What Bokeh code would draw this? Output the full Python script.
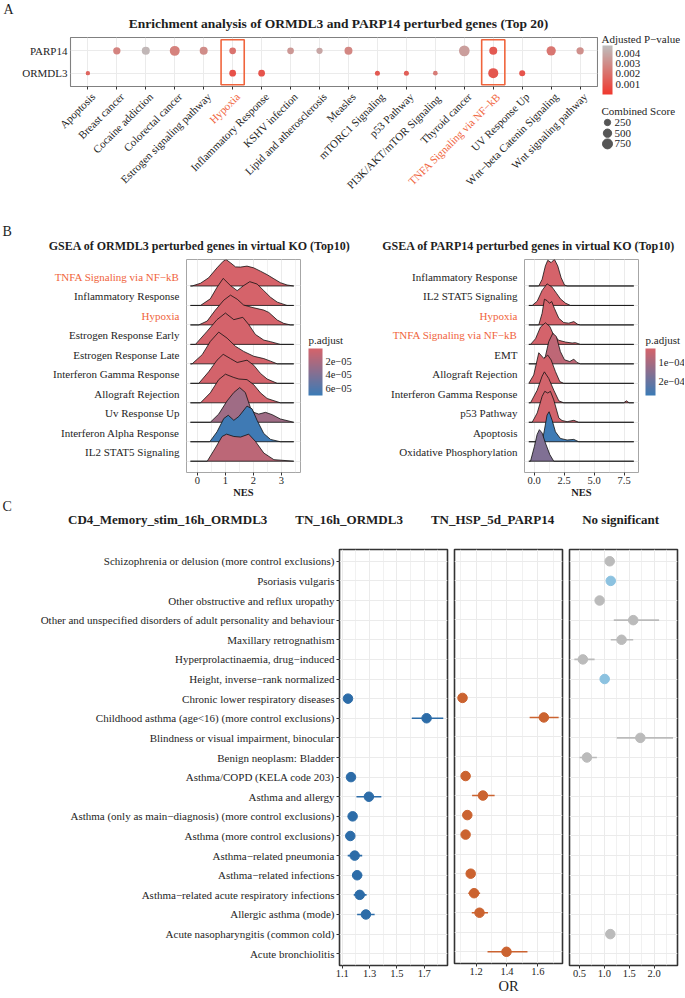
import math
from bokeh.plotting import figure
from bokeh.models import (Range1d, FixedTicker, SingleIntervalTicker, LinearColorMapper, ColorBar,
                          ColumnDataSource, Legend, LegendItem, PrintfTickFormatter, AllLabels)
from bokeh.layouts import column, row
from bokeh.embed import file_html
from bokeh.resources import INLINE
from bokeh.core.properties import value

FONT = "Liberation Serif"
INK = "#1E1E1E"
HL = "#F0643C"
GRID = "#EBEBEB"

# ================= Panel A data =================
a_categories = ["Apoptosis", "Breast cancer", "Cocaine addiction", "Colorectal cancer",
                "Estrogen signaling pathway", "Hypoxia", "Inflammatory Response", "KSHV infection",
                "Lipid and atherosclerosis", "Measles", "mTORC1 Signaling", "p53 Pathway",
                "PI3K/AKT/mTOR  Signaling", "Thyroid cancer", "TNFA Signaling via NF−kB",
                "UV Response Up", "Wnt−beta Catenin Signaling", "Wnt signaling pathway"]
a_genes = ["ORMDL3", "PARP14"]          # bottom -> top
a_highlight = ["Hypoxia", "TNFA Signaling via NF−kB"]
a_title = "Enrichment analysis of ORMDL3 and PARP14 perturbed genes (Top 20)"

a_parp14_terms = ["Breast cancer", "Cocaine addiction", "Colorectal cancer", "Estrogen signaling pathway",
                  "Hypoxia", "KSHV infection", "Lipid and atherosclerosis", "Measles", "Thyroid cancer",
                  "TNFA Signaling via NF−kB", "Wnt−beta Catenin Signaling", "Wnt signaling pathway"]
a_parp14_padj = [0.0027, 0.0045, 0.0026, 0.0030, 0.0021, 0.0034, 0.0039, 0.0028, 0.0036, 0.0012, 0.0022, 0.0031]
a_parp14_score = [365, 455, 750, 455, 295, 295, 250, 455, 870, 455, 640, 365]

a_ormdl3_terms = ["Apoptosis", "Hypoxia", "Inflammatory Response", "mTORC1 Signaling", "p53 Pathway",
                  "PI3K/AKT/mTOR  Signaling", "TNFA Signaling via NF−kB", "UV Response Up"]
a_ormdl3_padj = [0.0016, 0.0009, 0.0010, 0.0012, 0.0014, 0.0024, 0.0011, 0.0010]
a_ormdl3_score = [80, 300, 295, 130, 130, 105, 760, 220]

a_padj_ticks = [0.001, 0.002, 0.003, 0.004]
a_score_breaks = [250, 500, 750]

# ================= Panel B data =================
b_highlight = ["TNFA Signaling via NF−kB", "Hypoxia"]

bL_title = "GSEA of ORMDL3 perturbed genes in virtual KO (Top10)"
bL_terms = ["TNFA Signaling via NF−kB", "Inflammatory Response", "Hypoxia", "Estrogen Response Early",
            "Estrogen Response Late", "Interferon Gamma Response", "Allograft Rejection", "Uv Response Up",
            "Interferon Alpha Response", "IL2 STAT5 Signaling"]
bL_padj = [1.1e-06, 1.3e-06, 1.6e-06, 1.9e-06, 2.2e-06, 2.6e-06, 3.0e-06, 2.6e-05, 6.9e-05, 1.3e-05]
bL_x = [
    [-0.19, 0.11, 0.40, 0.70, 0.92, 1.02, 1.18, 1.36, 1.54, 1.77, 2.01, 2.25, 2.49, 2.73, 2.96, 3.20, 3.44],
    [0.11, 0.46, 0.70, 0.92, 1.18, 1.42, 1.65, 1.87, 2.13, 2.37, 2.61, 2.85, 3.20],
    [0.05, 0.35, 0.64, 0.94, 1.18, 1.42, 1.65, 2.01, 2.37, 2.55, 2.85, 3.08, 3.32],
    [-0.07, 0.35, 0.70, 1.00, 1.30, 1.62, 1.83, 2.07, 2.37, 2.61, 2.96],
    [-0.19, 0.17, 0.46, 0.76, 1.06, 1.36, 1.65, 2.01, 2.37, 2.61, 2.85],
    [0.05, 0.40, 0.70, 0.92, 1.18, 1.42, 1.77, 2.01, 2.25, 2.49, 2.85],
    [0.11, 0.46, 0.76, 1.00, 1.30, 1.48, 1.77, 2.01, 2.25, 2.49, 2.96],
    [0.46, 0.76, 1.06, 1.30, 1.51, 1.71, 1.89, 2.01, 2.19, 2.43, 2.67, 2.96, 3.44],
    [0.44, 0.70, 0.94, 1.10, 1.30, 1.48, 1.77, 1.95, 2.13, 2.37, 2.61, 2.96],
    [0.35, 0.64, 0.88, 1.04, 1.30, 1.54, 1.83, 2.07, 2.37, 2.73, 3.44],
]
bL_h = [
    [0, 0.14, 0.42, 0.93, 1.27, 1.36, 1.19, 0.98, 0.97, 1.02, 0.93, 0.76, 0.58, 0.37, 0.17, 0.05, 0],
    [0, 0.34, 0.93, 1.39, 1.02, 0.76, 1.02, 1.22, 1.10, 0.76, 0.42, 0.17, 0],
    [0, 0.20, 0.76, 1.27, 1.53, 1.32, 1.02, 0.88, 0.76, 0.64, 0.25, 0.08, 0],
    [0, 0.68, 1.27, 1.61, 1.27, 1.39, 1.02, 0.51, 0.22, 0.14, 0],
    [0, 0.47, 1.15, 1.63, 1.32, 0.90, 0.64, 0.39, 0.27, 0.14, 0],
    [0, 0.59, 1.19, 1.49, 1.27, 1.07, 1.19, 0.93, 0.51, 0.22, 0],
    [0, 0.51, 1.19, 1.47, 1.30, 1.22, 1.19, 0.93, 0.51, 0.22, 0],
    [0, 0.42, 1.10, 1.53, 1.78, 1.53, 0.76, 0.51, 0.42, 0.51, 0.39, 0.17, 0],
    [0, 0.51, 1.19, 1.36, 1.10, 1.30, 1.83, 1.69, 1.10, 0.42, 0.12, 0],
    [0, 0.68, 1.27, 1.39, 1.27, 1.24, 1.39, 1.02, 0.42, 0.08, 0],
]
bL_span = [-0.25, 3.44]
bL_cb_ticks = [2e-05, 4e-05, 6e-05]
bL_cb_labels = ["2e−05", "4e−05", "6e−05"]

bR_title = "GSEA of PARP14 perturbed genes in virtual KO (Top10)"
bR_terms = ["Inflammatory Response", "IL2 STAT5 Signaling", "Hypoxia", "TNFA Signaling via NF−kB", "EMT",
            "Allograft Rejection", "Interferon Gamma Response", "p53 Pathway", "Apoptosis",
            "Oxidative Phosphorylation"]
bR_padj = [2.7e-05, 2.8e-05, 2.9e-05, 3.0e-05, 6.5e-05, 3.1e-05, 3.2e-05, 3.3e-05, 2.7e-04, 1.65e-04]
bR_x = [
    [0.39, 0.67, 0.94, 1.14, 1.42, 1.69, 1.97, 2.25, 2.53, 2.75],
    [-0.16, 0.26, 0.67, 1.08, 1.50, 1.86, 2.19, 2.61, 3.03],
    [0.39, 0.67, 0.86, 1.08, 1.28, 1.47, 1.69, 2.06, 2.47, 2.89, 3.31, 3.64, 3.86],
    [-0.30, 0.12, 0.53, 0.94, 1.31, 1.64, 2.06, 2.61, 3.17, 3.44, 3.86],
    [0.53, 0.94, 1.22, 1.56, 1.86, 2.19, 2.53, 2.97, 3.31, 3.58, 3.86],
    [-0.44, -0.03, 0.39, 0.81, 1.14, 1.42, 1.78, 2.14, 2.47],
    [-0.30, 0.26, 0.67, 0.86, 1.22, 1.64, 2.06, 2.47, 7.47, 7.69, 7.92],
    [-0.16, 0.26, 0.67, 0.89, 1.14, 1.36, 1.64, 2.06, 2.33, 2.75, 3.31, 3.72],
    [0.67, 0.86, 1.08, 1.25, 1.50, 1.78, 2.19, 2.75, 3.31, 3.72],
    [-0.30, 0.03, 0.25, 0.44, 0.67, 0.94, 1.31, 1.64],
]
bR_h = [
    [0, 0.34, 1.03, 1.32, 1.20, 1.37, 1.03, 0.43, 0.05, 0],
    [0, 0.22, 0.77, 1.11, 0.94, 0.63, 0.34, 0.12, 0],
    [0, 0.60, 1.32, 1.25, 1.11, 1.20, 0.85, 0.34, 0.12, 0.09, 0.17, 0.03, 0],
    [0, 0.29, 0.89, 1.11, 0.92, 0.46, 0.21, 0.12, 0.07, 0.09, 0],
    [0, 0.38, 1.14, 1.57, 1.40, 0.63, 0.21, 0.12, 0.24, 0.07, 0],
    [0, 0.43, 1.57, 1.28, 1.45, 1.20, 0.60, 0.09, 0],
    [0, 0.65, 1.37, 1.59, 1.25, 0.65, 0.10, 0, 0, 0.10, 0],
    [0, 0.48, 1.33, 1.59, 1.50, 1.59, 1.15, 0.22, 0.09, 0.03, 0.10, 0],
    [0, 0.60, 1.37, 1.54, 1.11, 0.51, 0.17, 0.09, 0.12, 0],
    [0, 0.77, 1.37, 1.62, 1.45, 0.94, 0.34, 0],
]
bR_span = [-0.44, 8.31]
bR_cb_ticks = [1e-04, 2e-04]
bR_cb_labels = ["1e−04", "2e−04"]

# ================= Panel C data =================
c_traits = ["Schizophrenia or delusion (more control exclusions)", "Psoriasis vulgaris",
            "Other obstructive and reflux uropathy",
            "Other and unspecified disorders of adult personality and behaviour",
            "Maxillary retrognathism", "Hyperprolactinaemia, drug−induced", "Height, inverse−rank normalized",
            "Chronic lower respiratory diseases", "Childhood asthma (age<16) (more control exclusions)",
            "Blindness or visual impairment, binocular", "Benign neoplasm: Bladder",
            "Asthma/COPD (KELA code 203)", "Asthma and allergy",
            "Asthma (only as main−diagnosis) (more control exclusions)", "Asthma (more control exclusions)",
            "Asthma−related pneumonia", "Asthma−related infections",
            "Asthma−related acute respiratory infections", "Allergic asthma (mode)",
            "Acute nasopharyngitis (common cold)", "Acute bronchiolitis"]
c_groups = ["CD4_Memory_stim_16h_ORMDL3", "TN_16h_ORMDL3", "TN_HSP_5d_PARP14", "No significant"]
c_colors = ["#2C6CA8", "#CB6330", "#8CC2E0", "#BBBBBB"]

c1_traits = ["Chronic lower respiratory diseases", "Childhood asthma (age<16) (more control exclusions)",
             "Asthma/COPD (KELA code 203)", "Asthma and allergy",
             "Asthma (only as main−diagnosis) (more control exclusions)", "Asthma (more control exclusions)",
             "Asthma−related pneumonia", "Asthma−related infections",
             "Asthma−related acute respiratory infections", "Allergic asthma (mode)"]
c1_or = [1.142, 1.717, 1.164, 1.295, 1.176, 1.159, 1.191, 1.209, 1.228, 1.273]
c1_lo = [1.128, 1.609, 1.150, 1.204, 1.160, 1.145, 1.140, 1.172, 1.184, 1.209]
c1_hi = [1.156, 1.839, 1.178, 1.386, 1.192, 1.173, 1.246, 1.246, 1.278, 1.337]

c2_traits = ["Chronic lower respiratory diseases", "Childhood asthma (age<16) (more control exclusions)",
             "Asthma/COPD (KELA code 203)", "Asthma and allergy",
             "Asthma (only as main−diagnosis) (more control exclusions)", "Asthma (more control exclusions)",
             "Asthma−related infections", "Asthma−related acute respiratory infections",
             "Allergic asthma (mode)", "Acute bronchiolitis"]
c2_or = [1.112, 1.639, 1.132, 1.244, 1.143, 1.132, 1.165, 1.187, 1.222, 1.397]
c2_lo = [1.100, 1.547, 1.118, 1.174, 1.130, 1.120, 1.139, 1.149, 1.172, 1.274]
c2_hi = [1.124, 1.735, 1.146, 1.320, 1.156, 1.144, 1.193, 1.226, 1.277, 1.533]

c3_traits = ["Schizophrenia or delusion (more control exclusions)", "Psoriasis vulgaris",
             "Other obstructive and reflux uropathy",
             "Other and unspecified disorders of adult personality and behaviour",
             "Maxillary retrognathism", "Hyperprolactinaemia, drug−induced", "Height, inverse−rank normalized",
             "Blindness or visual impairment, binocular", "Benign neoplasm: Bladder",
             "Acute nasopharyngitis (common cold)"]
c3_group = ["No significant", "TN_HSP_5d_PARP14", "No significant", "No significant", "No significant",
            "No significant", "TN_HSP_5d_PARP14", "No significant", "No significant", "No significant"]
c3_or = [1.108, 1.129, 0.905, 1.58, 1.346, 0.568, 1.007, 1.723, 0.65, 1.12]
c3_lo = [1.08, 1.10, 0.88, 1.19, 1.129, 0.398, 0.99, 1.25, 0.50, 1.09]
c3_hi = [1.14, 1.16, 0.93, 2.10, 1.58, 0.804, 1.025, 2.38, 0.85, 1.15]


# ================= helpers =================
def gradient(c1, c2, n=256):
    a = [int(c1[i:i + 2], 16) for i in (1, 3, 5)]
    b = [int(c2[i:i + 2], 16) for i in (1, 3, 5)]
    out = []
    for k in range(n):
        t = k / (n - 1)
        out.append("#%02x%02x%02x" % tuple(int(round(a[j] + (b[j] - a[j]) * t)) for j in range(3)))
    return out


def dot_size(score):
    return math.sqrt(9.5 + 0.12 * score)


def new_fig(**kw):
    p = figure(output_backend="svg", toolbar_location=None, **kw)
    p.background_fill_color = "white"
    p.border_fill_color = "white"
    try:
        p.frame_align = False
    except Exception:
        pass
    return p


def pix_fig(w, h, **kw):
    """A figure whose frame is the whole canvas, in pixel-like units (y grows downward)."""
    p = new_fig(width=w, height=h, x_range=Range1d(0, w), y_range=Range1d(h, 0), min_border=0,
                x_axis_location=None, y_axis_location=None, **kw)
    p.outline_line_color = None
    p.grid.visible = False
    return p


def style_axis(ax, size="11px"):
    ax.axis_line_color = None
    ax.major_tick_in = 0
    ax.major_tick_out = 3
    ax.minor_tick_in = 0
    ax.minor_tick_out = 0
    ax.major_tick_line_color = "#333333"
    ax.major_label_text_font = FONT
    ax.major_label_text_font_size = size
    ax.major_label_text_color = INK
    ax.major_label_standoff = 2


def txt(p, x, y, text, size, color=INK, align="left", baseline="middle", style="normal", **kw):
    p.text(x=x, y=y, text=text, text_font=value(FONT), text_font_size=size, text_color=color,
           text_align=align, text_baseline=baseline, text_font_style=style, **kw)


def colorbar(mapper, loc, w, h, ticks, labels=None, fmt=None, size="11px"):
    kw = {}
    if labels is not None:
        kw["major_label_overrides"] = dict(zip(ticks, labels))
    if fmt is not None:
        kw["formatter"] = fmt
    return ColorBar(color_mapper=mapper, location=loc, orientation="vertical", width=w, height=h,
                    ticker=FixedTicker(ticks=ticks), major_label_policy=AllLabels(),
                    major_label_text_font=FONT, major_label_text_font_size=size,
                    major_label_text_color=INK, label_standoff=3,
                    major_tick_line_color=None, minor_tick_line_color=None, bar_line_color=None,
                    padding=0, margin=0, background_fill_alpha=0, **kw)


# ================= Panel A =================
A_W = 598
A_LEFT, A_RIGHT_BORDER = 70, 1
nA = len(a_categories)
xrA = Range1d(-0.6, nA - 0.4)
yrA = Range1d(0.4, len(a_genes) + 0.6)

pAtop = pix_fig(A_W, 36)
txt(pAtop, [3], [9], ["A"], "14px")
txt(pAtop, [338], [23], [a_title], "13.5px", align="center", style="bold")

pA = new_fig(width=A_W, height=54, x_range=xrA, y_range=yrA, min_border_left=A_LEFT,
             min_border_right=A_RIGHT_BORDER, min_border_top=1, min_border_bottom=4)
pA.outline_line_color = "#808080"
pA.outline_line_width = 1.1
pA.grid.grid_line_color = GRID
pA.xaxis.ticker = FixedTicker(ticks=list(range(nA)))
pA.xaxis.major_label_overrides = {i: "" for i in range(nA)}
style_axis(pA.xaxis[0])
pA.xaxis.major_label_text_font_size = "0px"
pA.xaxis.major_label_standoff = 0
pA.yaxis.ticker = FixedTicker(ticks=list(range(1, len(a_genes) + 1)))
pA.yaxis.major_label_overrides = {i + 1: g for i, g in enumerate(a_genes)}
style_axis(pA.yaxis[0])
pA.yaxis.major_tick_out = 0
pA.yaxis.major_label_standoff = 3

mapA = LinearColorMapper(palette=gradient("#F0382E", "#BEBEBE"), low=0.0, high=0.00475)

ax_, ay_, ap_, as_ = [], [], [], []
for gi, (terms, padj, score) in enumerate([(a_ormdl3_terms, a_ormdl3_padj, a_ormdl3_score),
                                           (a_parp14_terms, a_parp14_padj, a_parp14_score)]):
    for t, pv, sc in zip(terms, padj, score):
        ax_.append(a_categories.index(t))
        ay_.append(gi + 1)
        ap_.append(pv)
        as_.append(dot_size(sc))
srcA = ColumnDataSource(dict(x=ax_, y=ay_, p=ap_, size=as_))
pA.scatter("x", "y", size="size", source=srcA,
           fill_color={"field": "p", "transform": mapA}, line_color=None)

hx = [a_categories.index(h) for h in a_highlight]
pA.quad(left=[x - 0.4 for x in hx], right=[x + 0.4 for x in hx], bottom=0.48, top=len(a_genes) + 0.5,
        fill_color=None, line_color=HL, line_width=1.6)

# rotated category labels, on the same x scale as pA
sA = (A_W - A_LEFT - A_RIGHT_BORDER) / (xrA.end - xrA.start)
pAlab = new_fig(width=A_W, height=110,
                x_range=Range1d(xrA.start - A_LEFT / sA, xrA.end + A_RIGHT_BORDER / sA),
                y_range=Range1d(110, 0), min_border=0, x_axis_location=None, y_axis_location=None)
pAlab.outline_line_color = None
pAlab.grid.visible = False
txt(pAlab, list(range(nA)), 0, a_categories, "11px",
    color=[HL if c in a_highlight else INK for c in a_categories],
    align="right", baseline="top", angle=math.pi / 4, x_offset=1)

colA = column(pAtop, pA, pAlab)

# legend column for panel A
pAL = pix_fig(86, 200)
pAL.add_layout(colorbar(mapA, (4, 106), 10, 49, a_padj_ticks, fmt=PrintfTickFormatter(format="%.3f")))
txt(pAL, [3], [38], ["Adjusted P−value"], "11px")
leg_y = [122 + 10.7 * i for i in range(len(a_score_breaks))]
pAL.scatter(x=9, y=leg_y, size=[dot_size(s) for s in a_score_breaks], color="#555555")
txt(pAL, 16, leg_y, [str(s) for s in a_score_breaks], "11px")
txt(pAL, [3], [110], ["Combined Score"], "11px")

rowA = row(colA, pAL)

# ================= Panel B =================
B_TOP, B_FRAME, B_BOT = 2, 213, 28


def ridge_half(lab_w, fig_w, leg_w, xr, terms, padj, rx, rh, span, mapper, cb_ticks, cb_labels, cb_w,
               cb_x, ticker, fmt, title, title_cx, letter):
    n = len(terms)
    H = B_TOP + B_FRAME + B_BOT
    yr = Range1d(0.42, n + 1.36)
    p = new_fig(width=fig_w, height=H, x_range=xr, y_range=yr, min_border_left=2, min_border_right=2,
                min_border_top=B_TOP, min_border_bottom=B_BOT)
    p.outline_line_color = "#A6A6A6"
    p.outline_line_width = 1
    p.grid.grid_line_color = GRID
    p.xgrid.minor_grid_line_color = GRID
    p.xgrid.minor_grid_line_width = 0.7
    p.xaxis.ticker = ticker
    if fmt is not None:
        p.xaxis.formatter = fmt
    style_axis(p.xaxis[0], "10.5px")
    p.xaxis.major_label_standoff = 1
    p.xaxis.axis_label = "NES"
    p.xaxis.axis_label_standoff = 0
    p.xaxis.axis_label_text_font = FONT
    p.xaxis.axis_label_text_font_size = "10.5px"
    p.xaxis.axis_label_text_font_style = "bold"
    p.xaxis.axis_label_text_color = INK
    p.yaxis.visible = False
    p.ygrid.ticker = FixedTicker(ticks=list(range(1, n + 1)))

    pxs, pys = [], []
    for i in range(n):
        y0 = n - i
        pxs.append([span[0]] + rx[i] + [span[1]])
        pys.append([y0] + [y0 + h for h in rh[i]] + [y0])
    src = ColumnDataSource(dict(xs=pxs, ys=pys, padj=padj))
    p.patches("xs", "ys", source=src, fill_color={"field": "padj", "transform": mapper},
              line_color="#111111", line_width=0.8)

    # pathway names (two highlighted in orange), sharing the ridge plot's y scale
    lab = new_fig(width=lab_w, height=H, x_range=Range1d(0, lab_w), y_range=yr, min_border_left=0,
                  min_border_right=0, min_border_top=B_TOP, min_border_bottom=B_BOT,
                  x_axis_location=None, y_axis_location=None)
    lab.outline_line_color = None
    lab.grid.visible = False
    txt(lab, lab_w - 5, [n - i for i in range(n)], terms, "11px",
        color=[HL if t in b_highlight else INK for t in terms], align="right", baseline="bottom",
        y_offset=-3)

    # colour legend: frame in pixel units (y downward from the ridge frame top)
    leg = new_fig(width=leg_w, height=H, x_range=Range1d(0, leg_w), y_range=Range1d(B_FRAME, 0),
                  min_border_left=0, min_border_right=0, min_border_top=B_TOP, min_border_bottom=B_BOT,
                  x_axis_location=None, y_axis_location=None)
    leg.outline_line_color = None
    leg.grid.visible = False
    leg.add_layout(colorbar(mapper, (cb_x, 77), cb_w, 47, cb_ticks, labels=cb_labels, size="10.5px"))
    txt(leg, [cb_x], [80], ["p.adjust"], "11px")

    tw = lab_w + fig_w + leg_w
    top = pix_fig(tw, 57)
    txt(top, [title_cx], [45], [title], "12px", align="center", style="bold")
    if letter:
        txt(top, [2], [31], [letter], "14px")
    return column(top, row(lab, p, leg))


mapBL = LinearColorMapper(palette=gradient("#3B7BB6", "#D6636A"), low=7.1e-05, high=1.0e-06)
mapBR = LinearColorMapper(palette=gradient("#3B7BB6", "#D6636A"), low=2.75e-04, high=2.6e-05)

halfL = ridge_half(184, 118, 50, Range1d(-0.39, 3.68), bL_terms, bL_padj, bL_x, bL_h, bL_span, mapBL,
                   bL_cb_ticks, bL_cb_labels, 14, 6, SingleIntervalTicker(interval=1, num_minor_ticks=2), None,
                   bL_title, 199, "B")
halfR = ridge_half(170, 118, 44, Range1d(-0.8, 8.7), bR_terms, bR_padj, bR_x, bR_h, bR_span, mapBR,
                   bR_cb_ticks, bR_cb_labels, 10, 5, SingleIntervalTicker(interval=2.5, num_minor_ticks=2),
                   PrintfTickFormatter(format="%.1f"), bR_title, 176, None)
rowB = row(halfL, halfR)

# ================= Panel C =================
nC = len(c_traits)
c_y = {t: nC - i for i, t in enumerate(c_traits)}

pCL = pix_fig(684, 30)
items = []
for g, col in zip(c_groups, c_colors):
    r = pCL.scatter(x=[], y=[], size=10, fill_color=col, line_color=col)
    items.append(LegendItem(label=g, renderers=[r]))
legC = Legend(items=items, location=(43, -2), orientation="horizontal", glyph_width=24, glyph_height=24,
              label_standoff=1, spacing=3, padding=0, margin=0, border_line_color=None,
              background_fill_alpha=0, label_text_font=FONT, label_text_font_size="13px",
              label_text_font_style="bold", label_text_color=INK)
pCL.add_layout(legC)
txt(pCL, [2], [6], ["C"], "14px")

C_TOP, C_BOT, C_H = 19, 31, 466


def facet(width, left, right, xr, traits, ors, los, his, colors, ticks, minors, show_y, xlabel=None):
    yr = Range1d(0.4, nC + 0.6)
    p = new_fig(width=width, height=C_H, x_range=xr, y_range=yr, min_border_left=left,
                min_border_right=right, min_border_top=C_TOP, min_border_bottom=C_BOT)
    p.outline_line_color = "#333333"
    p.outline_line_width = 1.6
    p.grid.grid_line_color = GRID
    p.xgrid.minor_grid_line_color = GRID
    p.xgrid.minor_grid_line_width = 0.7
    p.xaxis.ticker = FixedTicker(ticks=ticks, minor_ticks=minors)
    p.xaxis.formatter = PrintfTickFormatter(format="%.1f")
    style_axis(p.xaxis[0], "10.5px")
    p.xaxis.major_label_standoff = 1
    p.ygrid.ticker = FixedTicker(ticks=list(range(1, nC + 1)))
    if show_y:
        p.yaxis.ticker = FixedTicker(ticks=list(range(1, nC + 1)))
        p.yaxis.major_label_overrides = {c_y[t]: t for t in c_traits}
        style_axis(p.yaxis[0])
    else:
        p.yaxis.visible = False
    if xlabel:
        p.xaxis.axis_label = xlabel
        p.xaxis.axis_label_standoff = 0
        p.xaxis.axis_label_text_font = FONT
        p.xaxis.axis_label_text_font_size = "14.5px"
        p.xaxis.axis_label_text_font_style = "normal"
        p.xaxis.axis_label_text_color = INK
    ys = [c_y[t] for t in traits]
    p.segment(x0=los, y0=ys, x1=his, y1=ys, line_color=colors, line_width=1.6)
    p.scatter(x=ors, y=ys, size=9.5, fill_color=colors, line_color=colors)
    return p


col_of = dict(zip(c_groups, c_colors))
pC1 = facet(451, 339, 4, Range1d(1.08, 1.87), c1_traits, c1_or, c1_lo, c1_hi,
            [col_of[c_groups[0]]] * len(c1_traits), [1.1, 1.3, 1.5, 1.7], [1.2, 1.4, 1.6, 1.8], True)
pC2 = facet(115, 3, 4, Range1d(1.06, 1.76), c2_traits, c2_or, c2_lo, c2_hi,
            [col_of[c_groups[1]]] * len(c2_traits), [1.2, 1.4, 1.6], [1.1, 1.3, 1.5, 1.7], False, "OR")
pC3 = facet(118, 3, 7, Range1d(0.30, 2.47), c3_traits, c3_or, c3_lo, c3_hi,
            [col_of[g] for g in c3_group], [0.5, 1.0, 1.5, 2.0], [0.75, 1.25, 1.75, 2.25], False)

layout = column(rowA, rowB, pCL, row(pC1, pC2, pC3))
open("out.html", "w").write(file_html(layout, INLINE, title="chart"))
